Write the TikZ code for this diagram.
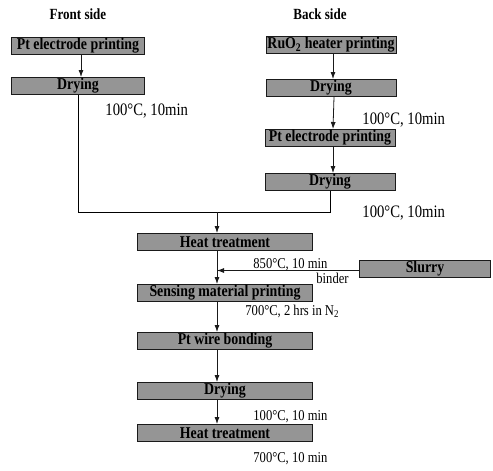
\documentclass[tikz,border=0pt]{standalone}
\usepackage{fontspec}
\setmainfont{Liberation Serif}
\newfontfamily\narrowfont[FakeStretch=0.84]{Liberation Serif}
\usetikzlibrary{arrows.meta, positioning, calc}
\definecolor{cbox}{HTML}{959595}
\definecolor{cline}{HTML}{1A1A1A}
\tikzset{
  every picture/.style={line width=0.8pt},
  stage/.style={draw=cline, fill=cbox, line width=1pt, inner sep=0pt,
    minimum width=#1, minimum height=17pt, font=\narrowfont\fontsize{16.5}{17}\selectfont\bfseries},
  stage/.default=175pt,
  arrow/.style={-{Latex[length=7pt, width=5pt]}, draw=cline},
  title/.style={font=\narrowfont\fontsize{15.5}{16}\selectfont\bfseries},
  cond/.style={anchor=base west, inner sep=0pt, font=\narrowfont\fontsize{15}{16}\selectfont},
  condbig/.style={anchor=base west, inner sep=0pt, font=\narrowfont\fontsize{17.5}{18}\selectfont},
}

\begin{document}
\begin{tikzpicture}[x=1pt, y=-1pt]
  \useasboundingbox (0,0) rectangle (493,471);
  % two sides
  \node[title] (front) at (78,14) {Front side};
  \node[title] (back) at (320,14) {Back side};
  \node[stage=133pt] (f1) at (78,46) {Pt electrode printing};
  \node[stage=133pt] (f2) at (78,86) {Drying};
  \node[stage=130pt] (b1) at (331,45) {RuO\textsubscript{2} heater printing};
  \node[stage=130pt] (b2) at (331,88) {Drying};
  \node[stage=130pt] (b3) at (330,138) {Pt electrode printing};
  \node[stage=130pt] (b4) at (330,182) {Drying};
  % main line
  \node[stage] (c1) at (225,242) {Heat treatment};
  \node[stage] (c2) at (225,293) {Sensing material printing};
  \node[stage] (c3) at (225,341) {Pt wire bonding};
  \node[stage] (c4) at (225,391) {Drying};
  \node[stage] (c5) at (225,433) {Heat treatment};
  \node[stage=131pt] (slurry) at (425,269) {Slurry};
  \coordinate (join) at (217,212);
  % connectors
  \draw[arrow] ([xshift=3pt]f1.south) -- ([xshift=3pt]f2.north);
  \draw[arrow] ([xshift=2pt]b1.south) -- ([xshift=2pt]b2.north);
  \draw[arrow] ([xshift=3pt]b2.south) -- ([xshift=3pt]b3.north);
  \draw[arrow] ([xshift=3pt]b3.south) -- ([xshift=3pt]b4.north);
  \draw (f2.south) |- (join);
  \draw (b4.south) |- (join);
  \draw[arrow] (join) -- (join |- c1.north);
  \foreach \a/\b in {c1/c2, c2/c3, c3/c4, c4/c5}
    \draw[arrow] ([xshift=-8pt]\a.south) -- ([xshift=-8pt]\b.north);
  \draw[arrow] ([yshift=-1.5pt]slurry.west) -- ([yshift=-1.5pt]slurry.west -| join);
  % conditions
  \node[condbig] (t1) at (105,115) {100°C, 10min};
  \node[condbig] (t2) at (362,124) {100°C, 10min};
  \node[condbig] (t3) at (362,217) {100°C, 10min};
  \node[cond] (t4) at (253,268) {850°C, 10 min};
  \node[cond] (t5) at (316,283) {binder};
  \node[cond] (t6) at (245,315) {700°C, 2 hrs in N\textsubscript{2}};
  \node[cond] (t7) at (253,420) {100°C, 10 min};
  \node[cond] (t8) at (253,462) {700°C, 10 min};
\end{tikzpicture}
\end{document}
